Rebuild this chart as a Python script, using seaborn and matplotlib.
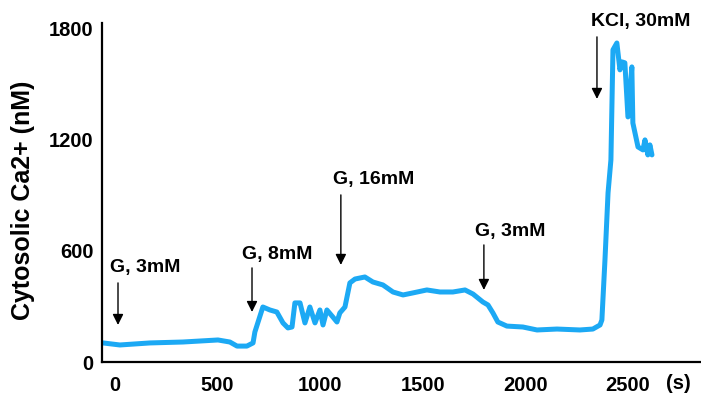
import numpy as np
import pandas as pd
import matplotlib
matplotlib.use("Agg")
import matplotlib.pyplot as plt
import seaborn as sns

# ---------------------------------------------------------------------------
# Data
# ---------------------------------------------------------------------------

time_s = [-58, 24, 171, 331, 502, 560, 595, 643, 673, 682, 721, 755, 789, 819,
          843, 863, 877, 902, 926, 950, 975, 999, 1014, 1033, 1062, 1082, 1096,
          1121, 1145, 1170, 1218, 1257, 1306, 1355, 1404, 1452, 1520, 1584,
          1647, 1706, 1745, 1793, 1818, 1842, 1866, 1910, 1988, 2057, 2154,
          2266, 2329, 2364, 2373, 2388, 2403, 2417, 2427, 2446, 2461, 2471,
          2485, 2500, 2519, 2524, 2549, 2573, 2583, 2597, 2607, 2617]
ca_nm = [103, 92, 103, 108, 119, 108, 86, 86, 103, 162, 297, 281, 270, 211,
         184, 189, 319, 319, 211, 297, 211, 281, 200, 281, 243, 216, 265,
         297, 427, 448, 459, 432, 416, 378, 362, 373, 389, 378,
         378, 389, 367, 324, 308, 265, 216, 194, 189, 173, 178,
         173, 178, 200, 227, 551, 913, 1091, 1685, 1722, 1577, 1620,
         1615, 1323, 1593, 1290, 1161, 1145, 1199, 1118, 1172, 1118]

# stimulus annotations: label, arrow x, arrow tail y, arrow tip y, label left x, label y
stim_labels = ["G, 3mM", "G, 8mM", "G, 16mM", "G, 3mM", "KCl, 30mM"]
arrow_x = [15, 668, 1101, 1798, 2349]
arrow_tail = [427, 508, 902, 632, 1755]
arrow_tip = [200, 270, 524, 389, 1420]
label_x = [-24, 619, 1062, 1754, 2320]
label_y = [508, 583, 983, 702, 1836]

x_ticks = [0, 500, 1000, 1500, 2000, 2500]
y_ticks = [0, 600, 1200, 1800]

LINE_COLOR = "#1ca9f4"

sns.set_style("white")
plt.rcParams["font.family"] = ["Liberation Sans", "DejaVu Sans"]
plt.rcParams.update({"text.color": "black", "axes.labelcolor": "black",
                     "xtick.color": "black", "ytick.color": "black"})

fig = plt.figure(figsize=(7.01, 3.95), dpi=100)
ax = fig.add_axes([0.1455, 0.0835, 0.8545, 0.8583])

df = pd.DataFrame({"time": time_s, "ca": ca_nm})
sns.lineplot(data=df, x="time", y="ca", ax=ax, color=LINE_COLOR,
             linewidth=3.6, sort=False, estimator=None)

ax.set_xlim(-63, 2856)
ax.set_ylim(0, 1830)
ax.set_xticks(x_ticks)
ax.set_yticks(y_ticks)
ax.tick_params(axis="both", length=0, labelsize=14.5, labelcolor="black")
ax.tick_params(axis="x", pad=10)
ax.tick_params(axis="y", pad=6)
for lab in ax.get_xticklabels() + ax.get_yticklabels():
    lab.set_fontweight("bold")

sns.despine(ax=ax)
for side in ("left", "bottom"):
    ax.spines[side].set_linewidth(1.6)
    ax.spines[side].set_color("black")

ax.set_xlabel("(s)", fontsize=14.5, fontweight="bold", color="black")
ax.xaxis.set_label_coords(0.9616, -0.062)
ax.xaxis.label.set_va("center")
ax.set_ylabel("Cytosolic Ca2+ (nM)", fontsize=18, fontweight="bold",
              color="black")
ax.yaxis.set_label_coords(-0.132, 0.478)
ax.yaxis.label.set_va("center")

for lab, ax_x, t0, t1, lx, ly in zip(stim_labels, arrow_x, arrow_tail,
                                     arrow_tip, label_x, label_y):
    ax.annotate("", xy=(ax_x, t1), xytext=(ax_x, t0),
                arrowprops=dict(arrowstyle="-|>", color="black", lw=1,
                                mutation_scale=16, shrinkA=0, shrinkB=0))
    ax.text(lx, ly, lab, ha="left", va="center", fontsize=14,
            fontweight="bold", color="black", clip_on=False)

fig.savefig("out.png", dpi=100)
